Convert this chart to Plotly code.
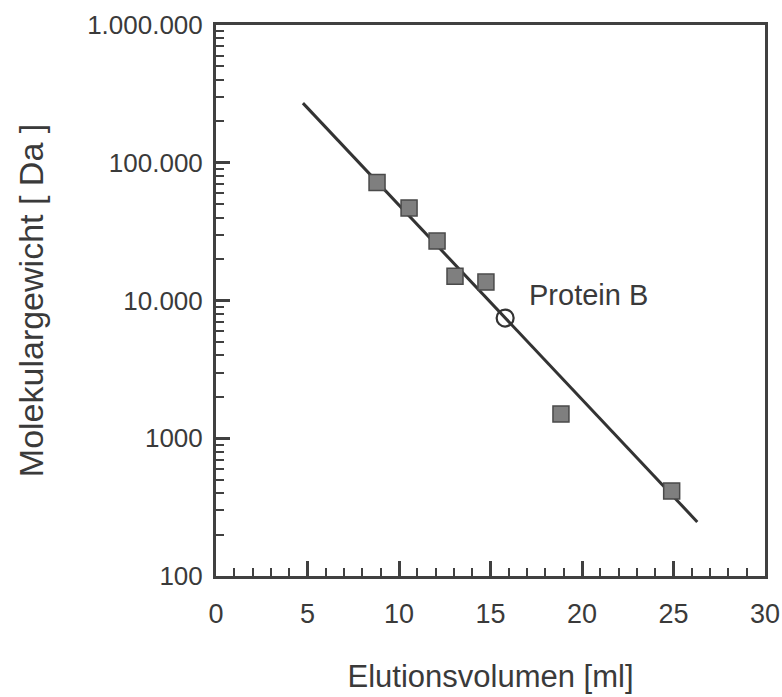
import plotly.graph_objects as go

# Data
elution_ml = [8.8, 10.55, 12.08, 13.06, 14.75, 18.85, 24.9]
mol_weight_da = [72000, 47000, 27000, 15000, 13600, 1500, 414]

protein_b_ml = [15.8]
protein_b_da = [7460]

fit_ml = [4.75, 26.3]
fit_da = [271000, 247]

x_ticks = [0, 5, 10, 15, 20, 25, 30]
y_ticks = [100, 1000, 10000, 100000, 1000000]
y_ticktext = ["100", "1000", "10.000", "100.000", "1.000.000"]
y_minor = [m * 10 ** e for e in range(2, 6) for m in range(2, 10)]

FONT = "Liberation Sans, Arial, Helvetica, sans-serif"
INK = "#3a3a3a"

fig = go.Figure()
fig.add_trace(go.Scatter(
    x=fit_ml, y=fit_da, mode="lines",
    line=dict(color="#333333", width=3), showlegend=False, hoverinfo="skip"))
fig.add_trace(go.Scatter(
    x=elution_ml, y=mol_weight_da, mode="markers",
    marker=dict(symbol="square", size=16, color="#7f7f7f",
                line=dict(color="#4a4a4a", width=1.5)),
    showlegend=False))
fig.add_trace(go.Scatter(
    x=protein_b_ml, y=protein_b_da, mode="markers",
    marker=dict(symbol="circle-open", size=17, color="#333333",
                line=dict(color="#333333", width=2.2)),
    showlegend=False))

fig.add_annotation(x=17.0, y=4.04, xref="x", yref="y", text="Protein B",
                   showarrow=False, xanchor="left", yanchor="middle",
                   font=dict(family=FONT, size=29, color=INK))

fig.update_layout(
    width=782, height=697,
    margin=dict(l=216, r=17, t=25, b=121, autoexpand=False),
    paper_bgcolor="white", plot_bgcolor="white",
    font=dict(family=FONT, color=INK),
)
fig.update_xaxes(
    range=[0, 30], tickvals=x_ticks, ticks="inside", ticklen=15, tickwidth=2.5,
    tickcolor="#404040", showgrid=False, zeroline=False, automargin=False,
    showline=True, linecolor="#404040", linewidth=3, mirror=True,
    tickfont=dict(family=FONT, size=27, color=INK),
    ticklabelstandoff=12,
    minor=dict(dtick=1, tick0=0, ticks="inside", ticklen=8, tickwidth=2,
               tickcolor="#404040", showgrid=False),
    title=dict(text="Elutionsvolumen [ml]", standoff=37,
               font=dict(family=FONT, size=31, color=INK)),
)
fig.update_yaxes(
    type="log", range=[2, 6], tickvals=y_ticks, ticktext=y_ticktext,
    ticks="inside", ticklen=14, tickwidth=2.5, tickcolor="#404040",
    showgrid=False, zeroline=False, automargin=False,
    showline=True, linecolor="#404040", linewidth=3, mirror=True,
    tickfont=dict(family=FONT, size=26, color=INK),
    ticklabelstandoff=5,
    minor=dict(tickvals=y_minor, ticks="inside", ticklen=8, tickwidth=2,
               tickcolor="#404040", showgrid=False),
    title=dict(text="Molekulargewicht [ Da ]", standoff=34,
               font=dict(family=FONT, size=34, color=INK)),
)

fig.write_html(
    "out.html",
    config={"displayModeBar": False},
    post_script="document.body.style.margin='0';document.body.style.overflow='hidden';",
)
